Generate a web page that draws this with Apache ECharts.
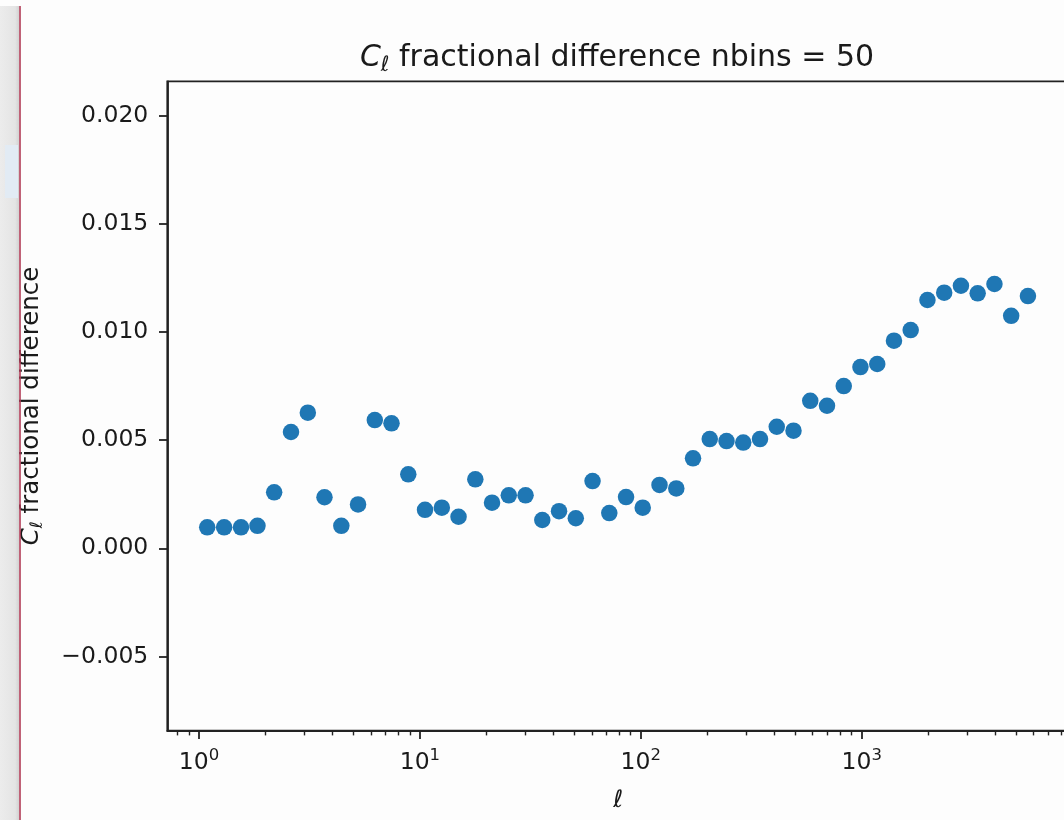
<!DOCTYPE html>
<html><head><meta charset="utf-8">
<script src="https://cdn.jsdelivr.net/npm/echarts@6/dist/echarts.min.js"></script>
<style>html,body{margin:0;padding:0;background:#fdfdfd}#c{width:1064px;height:820px}</style>
</head><body><div id="c"></div>
<script>
// multipole bin centres (ℓ)
const ellValues = [1.09, 1.30, 1.55, 1.84, 2.19, 2.61, 3.11, 3.70, 4.41, 5.25,
  6.25, 7.44, 8.86, 10.55, 12.57, 14.96, 17.82, 21.21, 25.26, 30.08,
  35.81, 42.64, 50.78, 60.46, 71.99, 85.72, 102.0, 121.5, 144.7, 172.3,
  205.1, 244.3, 290.8, 346.3, 412.3, 491.0, 584.6, 696.1, 828.8, 986.5,
  1175, 1399, 1665, 1983, 2361, 2811, 3347, 3986, 4746, 5651];
// C_ℓ fractional difference
const fracDiff = [0.00097, 0.00097, 0.00097, 0.00104, 0.00259, 0.00538, 0.00627, 0.00236, 0.00104, 0.00203,
  0.00593, 0.00578, 0.00342, 0.00178, 0.00188, 0.00146, 0.00319, 0.00211, 0.00245, 0.00245,
  0.00131, 0.00172, 0.00139, 0.00311, 0.00163, 0.00237, 0.00188, 0.00293, 0.00277, 0.00416,
  0.00505, 0.00496, 0.00489, 0.00505, 0.00562, 0.00544, 0.00682, 0.00659, 0.00750, 0.00838,
  0.00852, 0.00960, 0.01009, 0.01148, 0.01182, 0.01214, 0.01179, 0.01222, 0.01075, 0.01166];
const yTicks = [-0.005, 0.000, 0.005, 0.010, 0.015, 0.020];
const xMajorTicks = [1, 10, 100, 1000];
const xMinorTicks = [0.8, 0.9, 2, 3, 4, 5, 6, 7, 8, 9, 20, 30, 40, 50, 60, 70, 80, 90,
  200, 300, 400, 500, 600, 700, 800, 900, 2000, 3000, 4000, 5000, 6000, 7000, 8000];
const xRange = [0.719, 8670];
const yRange = [-0.00843, 0.02159];

const FONT = 'DejaVu Sans';
const TXT = '#1a1a1a';
const AX = '#222';
const data = ellValues.map((x, i) => [x, fracDiff[i]]);

const chart = echarts.init(document.getElementById('c'), null, {renderer: 'canvas'});
chart.setOption({
  backgroundColor: '#fdfdfd',
  animation: false,
  title: {
    text: '{ci|C}{sub|ℓ} fractional difference nbins = 50',
    left: 612, textAlign: 'center', top: 35,
    textStyle: {
      fontFamily: FONT, fontSize: 30, color: TXT, fontWeight: 'normal', lineHeight: 36,
      rich: {
        ci: {fontFamily: FONT, fontSize: 30, fontStyle: 'italic', color: TXT, lineHeight: 36},
        sub: {fontFamily: FONT, fontSize: 21, fontStyle: 'italic', color: TXT, verticalAlign: 'bottom', lineHeight: 23}
      }
    }
  },
  grid: {
    left: 167.3, top: 81.3, right: -5, bottom: 89.3,
    show: true, borderColor: AX, borderWidth: 1.8, backgroundColor: 'transparent',
    outerBoundsMode: 'none'
  },
  xAxis: [
    {
      type: 'log', logBase: 10, min: xRange[0], max: xRange[1], position: 'bottom',
      axisLine: {show: true, onZero: false, lineStyle: {color: AX, width: 1.8}},
      axisTick: {show: true, inside: false, length: 8.3, customValues: xMajorTicks, lineStyle: {color: AX, width: 1.8}},
      minorTick: {show: false},
      splitLine: {show: false},
      axisLabel: {
        show: true, customValues: xMajorTicks, margin: 17,
        formatter: v => '{b|10}{s|' + Math.round(Math.log10(v)) + '}',
        rich: {
          b: {fontFamily: FONT, fontSize: 23.5, color: TXT, lineHeight: 30},
          s: {fontFamily: FONT, fontSize: 16.5, color: TXT, lineHeight: 17, verticalAlign: 'top'}
        }
      },
      name: 'ℓ', nameLocation: 'middle', nameGap: 58,
      nameTextStyle: {fontFamily: FONT, fontSize: 24, fontStyle: 'italic', color: TXT}
    },
    {
      type: 'log', logBase: 10, min: xRange[0], max: xRange[1], position: 'bottom',
      axisLine: {show: false, onZero: false},
      axisTick: {show: true, inside: false, length: 4.7, customValues: xMinorTicks, lineStyle: {color: AX, width: 1.4}},
      axisLabel: {show: false},
      splitLine: {show: false}
    }
  ],
  yAxis: {
    type: 'value', min: yRange[0], max: yRange[1],
    axisLine: {show: true, onZero: false, lineStyle: {color: AX, width: 1.8}},
    axisTick: {show: true, inside: false, length: 8.3, customValues: yTicks, lineStyle: {color: AX, width: 1.8}},
    splitLine: {show: false},
    axisLabel: {
      customValues: yTicks, margin: 19,
      fontFamily: FONT, fontSize: 23.5, color: TXT,
      formatter: v => (v < -1e-9 ? '\u2212' : '') + Math.abs(v).toFixed(3)
    },
    name: '{ci|C}{sub|ℓ} fractional difference', nameLocation: 'middle', nameRotate: 90, nameGap: 121,
    nameTextStyle: {
      fontFamily: FONT, fontSize: 24.5, color: TXT, lineHeight: 29,
      rich: {
        ci: {fontFamily: FONT, fontSize: 24.5, fontStyle: 'italic', color: TXT, lineHeight: 29},
        sub: {fontFamily: FONT, fontSize: 17, fontStyle: 'italic', color: TXT, verticalAlign: 'bottom', lineHeight: 19}
      }
    }
  },
  series: [{
    type: 'scatter', xAxisIndex: 0, yAxisIndex: 0,
    symbol: 'circle', symbolSize: 16.5,
    itemStyle: {color: '#1f77b4', opacity: 1},
    data: data
  }],
  graphic: [
    {type: 'rect', z: 100, shape: {x: 0, y: 6, width: 19, height: 820},
     style: {fill: new echarts.graphic.LinearGradient(0, 0, 1, 0, [{offset: 0, color: '#ececec'}, {offset: 0.8, color: '#e4e4e4'}, {offset: 1, color: '#d2d2d2'}])}},
    {type: 'rect', z: 101, shape: {x: 5, y: 145, width: 13, height: 53}, style: {fill: '#e2ebf4'}},
    {type: 'line', z: 102, shape: {x1: 20, y1: 6, x2: 20, y2: 820}, style: {stroke: '#b03a55', lineWidth: 1.6}}
  ]
});
</script></body></html>
